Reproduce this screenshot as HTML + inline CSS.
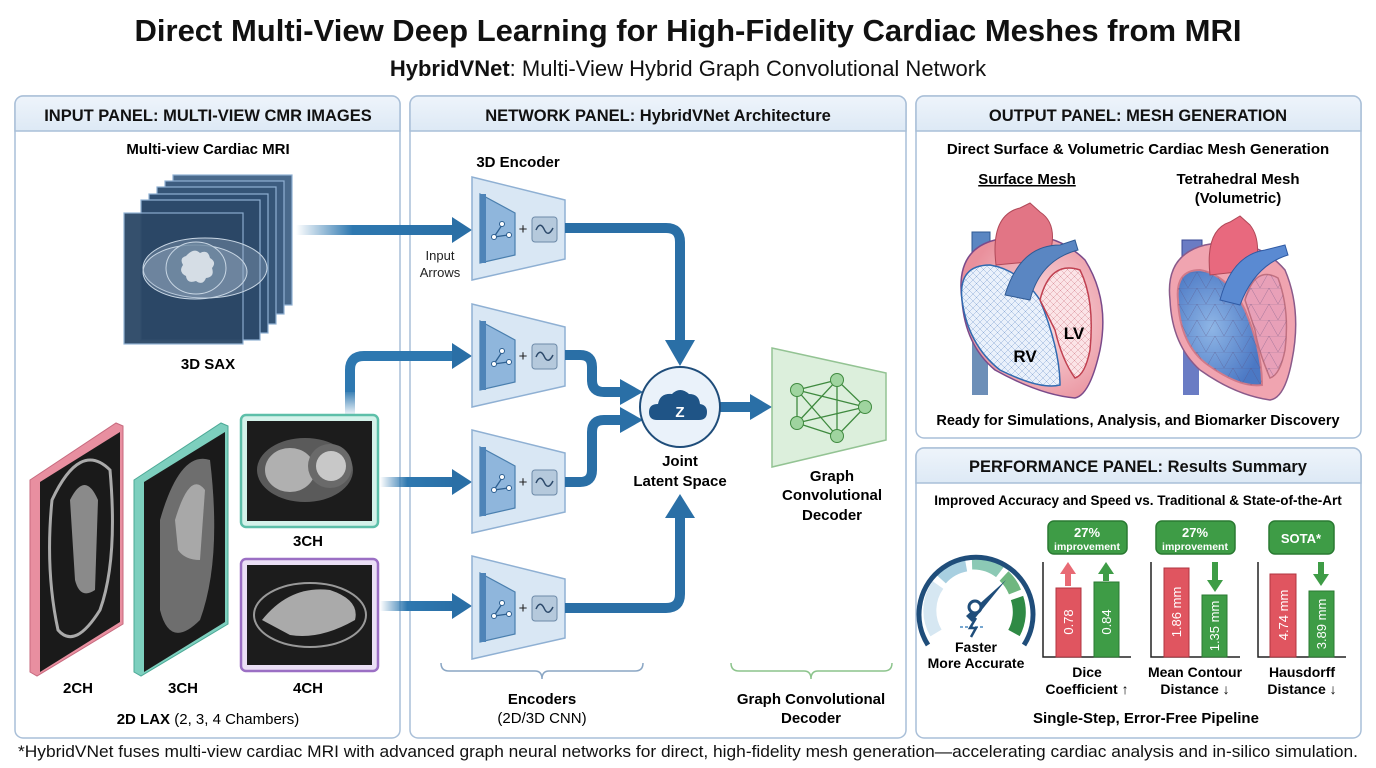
<!DOCTYPE html>
<html><head><meta charset="utf-8"><style>
html,body{margin:0;padding:0;background:#fff;}
svg{display:block;font-family:"Liberation Sans",Arial,sans-serif;}
.b{font-weight:bold;}
</style></head><body>
<svg width="1376" height="768" viewBox="0 0 1376 768" xmlns="http://www.w3.org/2000/svg">
<defs>
<linearGradient id="fadeR" x1="0" x2="1" y1="0" y2="0"><stop offset="0" stop-color="#2e78b0" stop-opacity="0"/><stop offset="0.35" stop-color="#2e78b0"/><stop offset="1" stop-color="#2a6fa6"/></linearGradient>
<linearGradient id="fadeU" x1="0" x2="0" y1="1" y2="0"><stop offset="0" stop-color="#2e78b0" stop-opacity="0.1"/><stop offset="1" stop-color="#2e78b0"/></linearGradient>
<linearGradient id="hdr" x1="0" x2="0" y1="0" y2="1"><stop offset="0" stop-color="#eef4fb"/><stop offset="1" stop-color="#dde9f5"/></linearGradient>
<radialGradient id="hr" cx="0.6" cy="0.5" r="0.6"><stop offset="0" stop-color="#fbe3e6"/><stop offset="1" stop-color="#e9909c"/></radialGradient>
<radialGradient id="hb" cx="0.4" cy="0.5" r="0.6"><stop offset="0" stop-color="#8fb6e6"/><stop offset="1" stop-color="#4b78c4"/></radialGradient>
<pattern id="mesh" width="7" height="7" patternUnits="userSpaceOnUse"><path d="M0 0L7 7M7 0L0 7" stroke="#c04a5c" stroke-width="0.5" opacity="0.5"/></pattern>
<pattern id="meshb" width="7" height="7" patternUnits="userSpaceOnUse"><path d="M0 0L7 7M7 0L0 7" stroke="#3a70b8" stroke-width="0.5" opacity="0.5"/></pattern>
<pattern id="tri" width="18" height="16" patternUnits="userSpaceOnUse"><path d="M0 16L9 0L18 16M0 0H18" stroke="#5a4a7a" stroke-width="0.5" fill="none" opacity="0.5"/></pattern>
<g id="enc">
<path d="M472 0 L565 23 L565 82 L472 103 Z" fill="#d9e7f4" stroke="#8fb0d3" stroke-width="1.5"/>
<path d="M480 17 L515 36 L515 78 L480 86 Z" fill="#8fb6dc" stroke="#4a7fae" stroke-width="1.2"/>
<path d="M480 17 L486 17 L486 86 L480 86 Z" fill="#4e84b8"/>
<path d="M494 60 L502 48 M494 60 L508 58" stroke="#2d5f90" stroke-width="1.3" fill="none"/>
<circle cx="494" cy="60" r="2.5" fill="#fff" stroke="#2d5f90"/><circle cx="502" cy="47" r="2.5" fill="#fff" stroke="#2d5f90"/><circle cx="509" cy="58" r="2.5" fill="#fff" stroke="#2d5f90"/>
<text x="523" y="57" font-size="15" text-anchor="middle" fill="#222">+</text>
<rect x="532" y="40" width="25" height="25" rx="3" fill="#b5c9dc" stroke="#6d8aa8"/>
<path d="M536 53 Q540 44 544 52 Q548 61 553 51" stroke="#2d4a6b" stroke-width="1.5" fill="none"/>
</g>
</defs>

<!-- Title -->
<text x="688" y="41" font-size="31" class="b" text-anchor="middle" fill="#111">Direct Multi-View Deep Learning for High-Fidelity Cardiac Meshes from MRI</text>
<text x="688" y="76" font-size="22" text-anchor="middle" fill="#111"><tspan class="b">HybridVNet</tspan>: Multi-View Hybrid Graph Convolutional Network</text>

<!-- Panels -->
<g stroke="#a9bfd8" stroke-width="1.5">
<rect x="15" y="96" width="385" height="642" rx="8" fill="#fff"/>
<path d="M15 131 V104 a8 8 0 0 1 8-8 H392 a8 8 0 0 1 8 8 V131 Z" fill="url(#hdr)"/>
<rect x="410" y="96" width="496" height="642" rx="8" fill="#fff"/>
<path d="M410 131 V104 a8 8 0 0 1 8-8 H898 a8 8 0 0 1 8 8 V131 Z" fill="url(#hdr)"/>
<rect x="916" y="96" width="445" height="342" rx="8" fill="#fff"/>
<path d="M916 131 V104 a8 8 0 0 1 8-8 H1353 a8 8 0 0 1 8 8 V131 Z" fill="url(#hdr)"/>
<rect x="916" y="448" width="445" height="290" rx="8" fill="#fff"/>
<path d="M916 483 V456 a8 8 0 0 1 8-8 H1353 a8 8 0 0 1 8 8 V483 Z" fill="url(#hdr)"/>
</g>
<g class="b" font-size="16.5" text-anchor="middle" fill="#111">
<text x="208" y="121">INPUT PANEL: MULTI-VIEW CMR IMAGES</text>
<text x="658" y="121">NETWORK PANEL: HybridVNet Architecture</text>
<text x="1138" y="121">OUTPUT PANEL: MESH GENERATION</text>
<text x="1138" y="472">PERFORMANCE PANEL: Results Summary</text>
</g>

<!-- INPUT panel -->
<text x="208" y="154" font-size="15" class="b" text-anchor="middle">Multi-view Cardiac MRI</text>
<g stroke="#8fb0d3" stroke-width="1.2">
<rect x="173" y="175" width="119" height="130" fill="#4a6a8c"/>
<rect x="165" y="181" width="119" height="133" fill="#3d5d80"/>
<rect x="157" y="187" width="119" height="137" fill="#355577"/>
<rect x="149" y="194" width="119" height="139" fill="#2f4f72"/>
<rect x="141" y="200" width="119" height="140" fill="#2d4a6b"/>
<rect x="124" y="213" width="119" height="131" fill="#2b4766" opacity="0.95"/>
</g>
<g fill="#9fb3c8" fill-opacity="0.35" stroke="#c8d6e4" stroke-width="1">
<ellipse cx="205" cy="268" rx="62" ry="30"/>
<ellipse cx="195" cy="272" rx="52" ry="27"/>
<ellipse cx="196" cy="268" rx="30" ry="26" fill="#6d879f" fill-opacity="0.8"/>
</g>
<path d="M186 256 q8-9 14-3 q8-4 10 5 q7 4 2 10 q3 9-6 10 q-3 8-10 3 q-9 3-10-5 q-8-4-3-11 q-4-7 3-9z" fill="#d5dde5"/>
<text x="208" y="369" font-size="15" class="b" text-anchor="middle">3D SAX</text>

<!-- 2CH -->
<path d="M30 480 L116 423 L123 426 L123 624 L37 676 L30 672 Z" fill="#e88fa0" stroke="#c76a7e"/>
<path d="M40 482 L120 432 L120 622 L40 672 Z" fill="#1a1a1a"/>
<path d="M52 500 Q80 440 110 470 Q118 560 100 610 Q75 650 58 630 Q45 570 52 500Z" fill="none" stroke="#aaa" stroke-width="3"/>
<path d="M70 500 Q85 470 98 500 L95 590 Q80 600 75 580 Z" fill="#8a8a8a"/>
<!-- 3CH tilted -->
<path d="M134 480 L221 423 L228 426 L228 624 L141 676 L134 672 Z" fill="#7dcfbe" stroke="#4ca996"/>
<path d="M144 482 L225 432 L225 622 L144 672 Z" fill="#1a1a1a"/>
<path d="M160 520 Q180 450 210 460 Q222 560 200 620 Q170 650 160 610 Z" fill="#6e6e6e"/>
<path d="M175 520 Q190 470 205 490 L200 560 Q185 560 178 550 Z" fill="#a8a8a8"/>
<!-- 3CH box -->
<rect x="241" y="415" width="137" height="112" rx="5" fill="#d4f2ea" stroke="#5dbfa9" stroke-width="2.5"/>
<rect x="247" y="421" width="125" height="100" fill="#1c1c1c"/>
<ellipse cx="305" cy="470" rx="48" ry="32" fill="#5a5a5a"/>
<ellipse cx="290" cy="470" rx="25" ry="22" fill="#b0b0b0"/>
<circle cx="330" cy="466" r="22" fill="#6a6a6a"/><circle cx="331" cy="466" r="15" fill="#c8c8c8"/>
<text x="308" y="546" font-size="15" class="b" text-anchor="middle">3CH</text>
<!-- 4CH box -->
<rect x="241" y="559" width="137" height="112" rx="5" fill="#eadff5" stroke="#9b6fc4" stroke-width="2.5"/>
<rect x="247" y="565" width="125" height="100" fill="#1c1c1c"/>
<ellipse cx="310" cy="615" rx="56" ry="32" fill="none" stroke="#999" stroke-width="2"/>
<path d="M262 620 Q290 585 330 590 Q360 600 355 620 Q320 640 290 635 Z" fill="#aaa"/>
<text x="78" y="693" font-size="15" class="b" text-anchor="middle">2CH</text>
<text x="183" y="693" font-size="15" class="b" text-anchor="middle">3CH</text>
<text x="308" y="693" font-size="15" class="b" text-anchor="middle">4CH</text>
<text x="208" y="724" font-size="15" text-anchor="middle"><tspan class="b">2D LAX</tspan> (2, 3, 4 Chambers)</text>

<!-- input arrows -->
<rect x="296" y="225" width="162" height="10" fill="url(#fadeR)"/>
<path d="M350 392 V370 Q350 356 364 356 H458" fill="none" stroke="#2e78b0" stroke-width="10"/>
<rect x="345" y="390" width="10" height="24" fill="url(#fadeU)"/>
<rect x="380" y="477" width="78" height="10" fill="url(#fadeR)"/>
<rect x="380" y="601" width="78" height="10" fill="url(#fadeR)"/>
<g fill="#2a6fa6">
<path d="M452 217 L472 230 L452 243Z"/><path d="M452 343 L472 356 L452 369Z"/>
<path d="M452 469 L472 482 L452 495Z"/><path d="M452 593 L472 606 L452 619Z"/>
</g>

<!-- network -->
<text x="518" y="167" font-size="15" class="b" text-anchor="middle">3D Encoder</text>
<text x="440" y="260" font-size="13" text-anchor="middle" fill="#222">Input</text>
<text x="440" y="277" font-size="13" text-anchor="middle" fill="#222">Arrows</text>
<use href="#enc" transform="translate(0,177)"/>
<use href="#enc" transform="translate(0,304)"/>
<use href="#enc" transform="translate(0,430)"/>
<use href="#enc" transform="translate(0,556)"/>

<g fill="none" stroke="#2a6fa6" stroke-width="10">
<path d="M565 228 H666 Q680 228 680 242 V345"/>
<path d="M565 355 H580 Q592 355 592 367 V380 Q592 392 604 392 H625"/>
<path d="M565 482 H580 Q592 482 592 470 V432 Q592 420 604 420 H625"/>
<path d="M565 608 H666 Q680 608 680 594 V515"/>
<path d="M720 407 H755"/>
</g>
<g fill="#2a6fa6">
<path d="M665 340 L695 340 L680 366Z"/>
<path d="M620 379 L643 392 L620 405Z"/>
<path d="M620 407 L643 420 L620 433Z"/>
<path d="M665 518 L695 518 L680 494Z"/>
<path d="M750 394 L772 407 L750 420Z"/>
</g>
<ellipse cx="680" cy="407" rx="40" ry="40" fill="#eaf2fa" stroke="#1f4d7a" stroke-width="2"/>
<path d="M657 420 q-8 0-8-8 q0-8 9-8 q2-11 14-10 q8-8 17 0 q10 0 11 10 q7 1 7 8 q0 8-8 8 Z" fill="#1f5486"/>
<text x="680" y="417" font-size="15" class="b" text-anchor="middle" fill="#fff">Z</text>
<text x="680" y="466" font-size="15" class="b" text-anchor="middle">Joint</text>
<text x="680" y="486" font-size="15" class="b" text-anchor="middle">Latent Space</text>

<path d="M772 348 L886 373 L886 440 L772 467 Z" fill="#dcefdc" stroke="#93c393" stroke-width="1.5"/>
<g stroke="#3f8a3f" stroke-width="1.3" fill="none">
<path d="M797 390 L837 380 L865 407 L837 436 L797 423 L797 390 M797 390 L865 407 M797 390 L837 436 M837 380 L797 423 M797 423 L865 407 M837 380 L837 436"/>
</g>
<g fill="#9fd49f" stroke="#3f8a3f"><circle cx="797" cy="390" r="6.5"/><circle cx="837" cy="380" r="6.5"/><circle cx="865" cy="407" r="6.5"/><circle cx="797" cy="423" r="6.5"/><circle cx="837" cy="436" r="6.5"/></g>
<g font-size="15" class="b" text-anchor="middle"><text x="832" y="481">Graph</text><text x="832" y="500">Convolutional</text><text x="832" y="520">Decoder</text></g>

<path d="M441 663 q0 8 8 8 H535 q7 0 7 8 q0-8 7-8 H635 q8 0 8-8" fill="none" stroke="#8aa6c4" stroke-width="1.5"/>
<path d="M731 663 q0 8 8 8 H804 q7 0 7 8 q0-8 7-8 H884 q8 0 8-8" fill="none" stroke="#8cc48c" stroke-width="1.5"/>
<text x="542" y="704" font-size="15" class="b" text-anchor="middle">Encoders</text>
<text x="542" y="723" font-size="15" text-anchor="middle">(2D/3D CNN)</text>
<text x="811" y="704" font-size="15" class="b" text-anchor="middle">Graph Convolutional</text>
<text x="811" y="723" font-size="15" class="b" text-anchor="middle">Decoder</text>

<!-- output panel -->
<text x="1138" y="154" font-size="15" class="b" text-anchor="middle">Direct Surface &amp; Volumetric Cardiac Mesh Generation</text>
<text x="1027" y="184" font-size="15" class="b" text-anchor="middle" text-decoration="underline">Surface Mesh</text>
<text x="1238" y="184" font-size="15" class="b" text-anchor="middle">Tetrahedral Mesh</text>
<text x="1238" y="203" font-size="15" class="b" text-anchor="middle">(Volumetric)</text>

<!-- heart 1 -->
<g>
<rect x="972" y="330" width="16" height="65" fill="#6d8fb8"/>
<rect x="972" y="232" width="18" height="50" fill="#5a86c2" stroke="#2f5a94"/>
<path d="M962 300 Q955 250 995 240 Q1050 225 1085 260 Q1110 300 1100 350 Q1090 395 1075 398 Q1040 395 995 370 Q965 345 962 300Z" fill="url(#hr)" stroke="#7a4a8a" stroke-width="1.5"/>
<path d="M962 300 Q958 265 990 265 Q1020 270 1040 300 Q1060 350 1060 385 Q1040 390 1000 370 Q968 345 962 300Z" fill="#eaf1fb" stroke="#2f6ab0" stroke-width="1.5"/>
<path d="M962 300 Q958 265 990 265 Q1020 270 1040 300 Q1060 350 1060 385 Q1040 390 1000 370 Q968 345 962 300Z" fill="url(#meshb)"/>
<path d="M1040 300 Q1050 260 1080 270 Q1095 300 1090 350 Q1085 375 1075 378 Q1062 360 1055 330 Z" fill="#fbe4e7" stroke="#c04050" stroke-width="1.5"/>
<path d="M1040 300 Q1050 260 1080 270 Q1095 300 1090 350 Q1085 375 1075 378 Q1062 360 1055 330 Z" fill="url(#mesh)"/>
<path d="M996 265 Q990 215 1020 208 L1030 203 L1040 212 Q1060 225 1048 260 Z" fill="#e27585" stroke="#b04858"/>
<path d="M1005 295 Q1020 245 1060 245 L1075 240 L1078 250 Q1040 260 1030 300 Z" fill="#5a86c2" stroke="#2f5a94"/>
<text x="1025" y="362" font-size="17" class="b" text-anchor="middle">RV</text>
<text x="1074" y="339" font-size="17" class="b" text-anchor="middle">LV</text>
</g>
<!-- heart 2 -->
<g>
<rect x="1183" y="340" width="16" height="55" fill="#6a7cc4"/>
<rect x="1182" y="240" width="20" height="45" fill="#6a7cc4" stroke="#3a4a94"/>
<path d="M1170 300 Q1165 255 1205 245 Q1255 235 1285 270 Q1302 310 1292 360 Q1285 398 1270 400 Q1235 395 1200 370 Q1172 345 1170 300Z" fill="#f0a4b0" stroke="#8a5a8a" stroke-width="1.5"/>
<path d="M1178 300 Q1175 270 1200 270 Q1228 275 1245 310 Q1262 350 1262 385 Q1240 388 1208 365 Q1180 345 1178 300Z" fill="url(#hb)" stroke="#d07a8a" stroke-width="2"/>
<path d="M1178 300 Q1175 270 1200 270 Q1228 275 1245 310 Q1262 350 1262 385 Q1240 388 1208 365 Q1180 345 1178 300Z" fill="url(#tri)"/>
<path d="M1245 300 Q1255 265 1278 278 Q1290 310 1285 350 Q1280 375 1270 378 Q1258 350 1255 330 Z" fill="#e8a0b8" stroke="#c07080" stroke-width="1.5"/>
<path d="M1245 300 Q1255 265 1278 278 Q1290 310 1285 350 Q1280 375 1270 378 Q1258 350 1255 330 Z" fill="url(#tri)"/>
<path d="M1210 275 Q1205 230 1230 222 L1240 216 L1250 225 Q1262 240 1255 270 Z" fill="#e8697e" stroke="#b04858"/>
<path d="M1220 300 Q1232 255 1265 250 L1285 245 L1288 255 Q1255 265 1240 305 Z" fill="#5a8ad2" stroke="#2f5aa4"/>
</g>
<text x="1138" y="425" font-size="14.5" class="b" text-anchor="middle">Ready for Simulations, Analysis, and Biomarker Discovery</text>

<!-- performance -->
<text x="1138" y="505" font-size="13.5" class="b" text-anchor="middle">Improved Accuracy and Speed vs. Traditional &amp; State-of-the-Art</text>
<g fill="none" stroke-width="13">
<path d="M936 633 A44 44 0 0 1 938 585" stroke="#d6e7f2"/>
<path d="M941 579 A44 44 0 0 1 966 565" stroke="#a8cfe0"/>
<path d="M972 563 A44 44 0 0 1 1000 572" stroke="#8cc9b5"/>
<path d="M1004 576 A44 44 0 0 1 1015 592" stroke="#6fb780"/>
<path d="M1017 598 A44 44 0 0 1 1014 633" stroke="#2f8a45"/>
</g>
<path d="M928 645 A57 57 0 1 1 1024 645" fill="none" stroke="#1f4d7a" stroke-width="5"/>
<path d="M966 616 L1006 580 L972 622Z" fill="#1f4d7a"/><circle cx="975" cy="607" r="6" fill="#fff" stroke="#1f4d7a" stroke-width="3"/>
<path d="M960 627 H985" stroke="#4a8ac0" stroke-width="1.5" stroke-dasharray="3 2"/>
<path d="M976 618 L970 628 L976 628 L971 637" stroke="#1f4d7a" stroke-width="2.5" fill="none"/>
<text x="976" y="652" font-size="14" class="b" text-anchor="middle">Faster</text>
<text x="976" y="668" font-size="14" class="b" text-anchor="middle">More Accurate</text>

<g stroke="#222" stroke-width="1.5" fill="none">
<path d="M1043 562 V657 H1131"/><path d="M1151 562 V657 H1240"/><path d="M1258 562 V657 H1346"/>
</g>
<g fill="#e05560" stroke="#b03540">
<rect x="1056" y="588" width="25" height="69"/><rect x="1164" y="568" width="25" height="89"/><rect x="1270" y="574" width="26" height="83"/>
</g>
<g fill="#3e9c46" stroke="#2a7a32">
<rect x="1094" y="582" width="25" height="75"/><rect x="1202" y="595" width="25" height="62"/><rect x="1309" y="591" width="25" height="66"/>
</g>
<g fill="#e86a74"><rect x="1065" y="572" width="6" height="14"/><path d="M1060 574 L1068 562 L1076 574Z"/></g>
<g fill="#3e9c46"><rect x="1103" y="572" width="6" height="9"/><path d="M1098 574 L1106 562 L1114 574Z"/>
<rect x="1212" y="562" width="6" height="20"/><path d="M1207 580 L1215 592 L1223 580Z"/>
<rect x="1318" y="562" width="6" height="14"/><path d="M1313 574 L1321 586 L1329 574Z"/></g>
<g font-size="13" fill="#fff" text-anchor="middle">
<text transform="translate(1073,622) rotate(-90)">0.78</text>
<text transform="translate(1111,622) rotate(-90)">0.84</text>
<text transform="translate(1181,612) rotate(-90)">1.86 mm</text>
<text transform="translate(1219,626) rotate(-90)">1.35 mm</text>
<text transform="translate(1288,615) rotate(-90)">4.74 mm</text>
<text transform="translate(1326,624) rotate(-90)">3.89 mm</text>
</g>
<g fill="#3e9c46" stroke="#2a7a32" stroke-width="1.5">
<rect x="1048" y="521" width="79" height="33" rx="6"/><rect x="1156" y="521" width="79" height="33" rx="6"/><rect x="1269" y="521" width="65" height="33" rx="6"/>
</g>
<g fill="#fff" class="b" text-anchor="middle">
<text x="1087" y="537" font-size="13">27%</text><text x="1087" y="550" font-size="10.5">improvement</text>
<text x="1195" y="537" font-size="13">27%</text><text x="1195" y="550" font-size="10.5">improvement</text>
<text x="1301" y="543" font-size="13">SOTA*</text>
</g>
<g font-size="14" class="b" text-anchor="middle">
<text x="1087" y="677">Dice</text><text x="1087" y="694">Coefficient ↑</text>
<text x="1195" y="677">Mean Contour</text><text x="1195" y="694">Distance ↓</text>
<text x="1302" y="677">Hausdorff</text><text x="1302" y="694">Distance ↓</text>
</g>
<text x="1146" y="723" font-size="15" class="b" text-anchor="middle">Single-Step, Error-Free Pipeline</text>

<text x="688" y="757" font-size="16.5" text-anchor="middle" fill="#111" textLength="1340" lengthAdjust="spacingAndGlyphs">*HybridVNet fuses multi-view cardiac MRI with advanced graph neural networks for direct, high-fidelity mesh generation—accelerating cardiac analysis and in-silico simulation.</text>
</svg>
</body></html>
